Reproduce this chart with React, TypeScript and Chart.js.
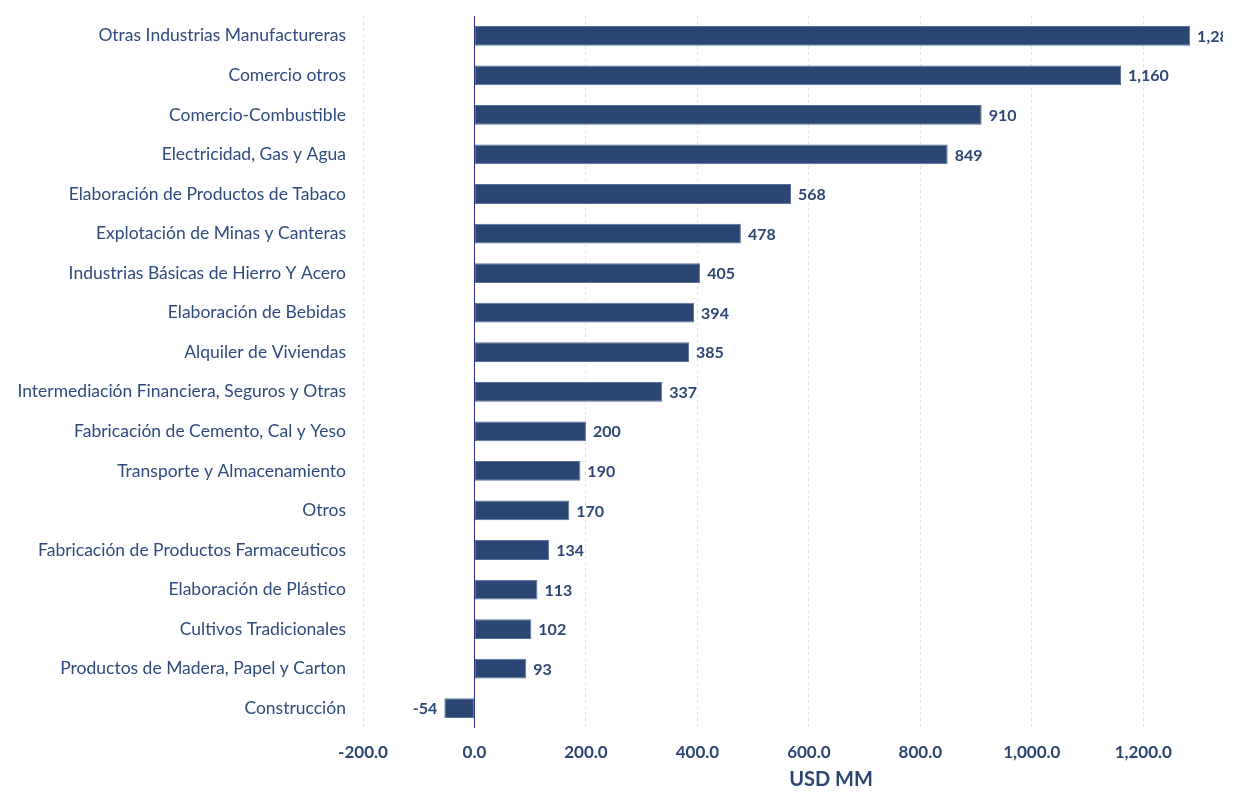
import React, { useEffect, useRef } from "react";
import { Chart, registerables } from "chart.js";

Chart.register(...registerables);

const categories: string[] = [
  "Otras Industrias Manufactureras",
  "Comercio otros",
  "Comercio-Combustible",
  "Electricidad, Gas y Agua",
  "Elaboración de Productos de Tabaco",
  "Explotación de Minas y Canteras",
  "Industrias Básicas de Hierro Y Acero",
  "Elaboración de Bebidas",
  "Alquiler de Viviendas",
  "Intermediación Financiera, Seguros y Otras",
  "Fabricación de Cemento, Cal y Yeso",
  "Transporte y Almacenamiento",
  "Otros",
  "Fabricación de Productos Farmaceuticos",
  "Elaboración de Plástico",
  "Cultivos Tradicionales",
  "Productos de Madera, Papel y Carton",
  "Construcción",
];

const values: number[] = [1284, 1160, 910, 849, 568, 478, 405, 394, 385, 337, 200, 190, 170, 134, 113, 102, 93, -54];

const xTicks: number[] = [-200, 0, 200, 400, 600, 800, 1000, 1200];

const axisTitle = "USD MM";

const FONT = "Lato, 'Noto Sans', sans-serif";
const NAVY = "#2c4674";

const fmtTick = (v: number) =>
  v.toLocaleString("en-US", { minimumFractionDigits: 1, maximumFractionDigits: 1 });
const fmtVal = (v: number) => v.toLocaleString("en-US");

const overlayPlugin = {
  id: "overlay",
  afterDatasetsDraw(chart: any) {
    const { ctx, chartArea, scales } = chart;
    const x0 = scales.x.getPixelForValue(0);
    ctx.save();
    ctx.strokeStyle = "#2b2d8e";
    ctx.lineWidth = 1;
    ctx.beginPath();
    ctx.moveTo(Math.round(x0) + 0.5, chartArea.top);
    ctx.lineTo(Math.round(x0) + 0.5, chartArea.bottom);
    ctx.stroke();

    // axis title (placed as in the reference, offset from chart-area centre)
    ctx.font = `700 20px ${FONT}`;
    ctx.fillStyle = NAVY;
    ctx.textAlign = "center";
    ctx.textBaseline = "middle";
    ctx.fillText(axisTitle, 831, 780);

    ctx.beginPath();
    ctx.rect(0, 0, chartArea.right, chart.height);
    ctx.clip();
    ctx.font = `700 16px ${FONT}`;
    ctx.fillStyle = NAVY;
    const meta = chart.getDatasetMeta(0);
    meta.data.forEach((bar: any, i: number) => {
      const v = values[i];
      if (v >= 0) {
        ctx.textAlign = "left";
        ctx.fillText(fmtVal(v), bar.x + 7, bar.y + 1);
      } else {
        ctx.textAlign = "right";
        ctx.fillText(fmtVal(v), bar.x - 7, bar.y + 1);
      }
    });
    ctx.restore();
  },
};

export default function App() {
  const canvasRef = useRef<HTMLCanvasElement | null>(null);

  useEffect(() => {
    if (!canvasRef.current) return;
    const chart = new Chart(canvasRef.current, {
      type: "bar",
      data: {
        labels: categories,
        datasets: [
          {
            data: values,
            backgroundColor: NAVY,
            borderColor: "#5a729c",
            borderWidth: 1,
            borderSkipped: false,
            categoryPercentage: 1,
            barPercentage: 0.5,
          },
        ],
      },
      options: {
        indexAxis: "y",
        responsive: false,
        maintainAspectRatio: false,
        animation: false,
        layout: { padding: { top: 16, right: 14, bottom: 0, left: 0 } },
        plugins: {
          legend: { display: false },
          tooltip: { enabled: false },
        },
        scales: {
          x: {
            min: -200,
            max: 1343,
            afterBuildTicks: (scale: any) => {
              scale.ticks = xTicks.map((v) => ({ value: v }));
            },
            afterFit: (scale: any) => {
              scale.height = 64;
              scale.paddingLeft = 0;
              scale.paddingRight = 0;
            },
            grid: {
              display: true,
              drawTicks: false,
              color: (ctx: any) => (ctx.tick && ctx.tick.value === 0 ? "rgba(0,0,0,0)" : "#e3e3e3"),
              lineWidth: 1,
            },
            border: { display: false, dash: [3, 3] },
            ticks: {
              padding: 14,
              color: NAVY,
              font: { family: FONT, size: 17, weight: "bold" },
              callback: (v: any) => fmtTick(Number(v)),
            },
          },
          y: {
            grid: { display: false, drawTicks: false },
            border: { display: false },
            afterFit: (scale: any) => {
              scale.width = 363;
              scale.paddingTop = 0;
              scale.paddingBottom = 0;
            },
            ticks: {
              padding: 17,
              color: "#2f4b7e",
              font: { family: FONT, size: 17.5, weight: "normal" },
            },
          },
        },
      },
      plugins: [overlayPlugin],
    });
    return () => chart.destroy();
  }, []);

  return (
    <div style={{ position: "absolute", left: 0, top: 0, width: 1237, height: 792, background: "#fff" }}>
      <canvas ref={canvasRef} width={1237} height={792} style={{ width: 1237, height: 792 }} />
    </div>
  );
}
